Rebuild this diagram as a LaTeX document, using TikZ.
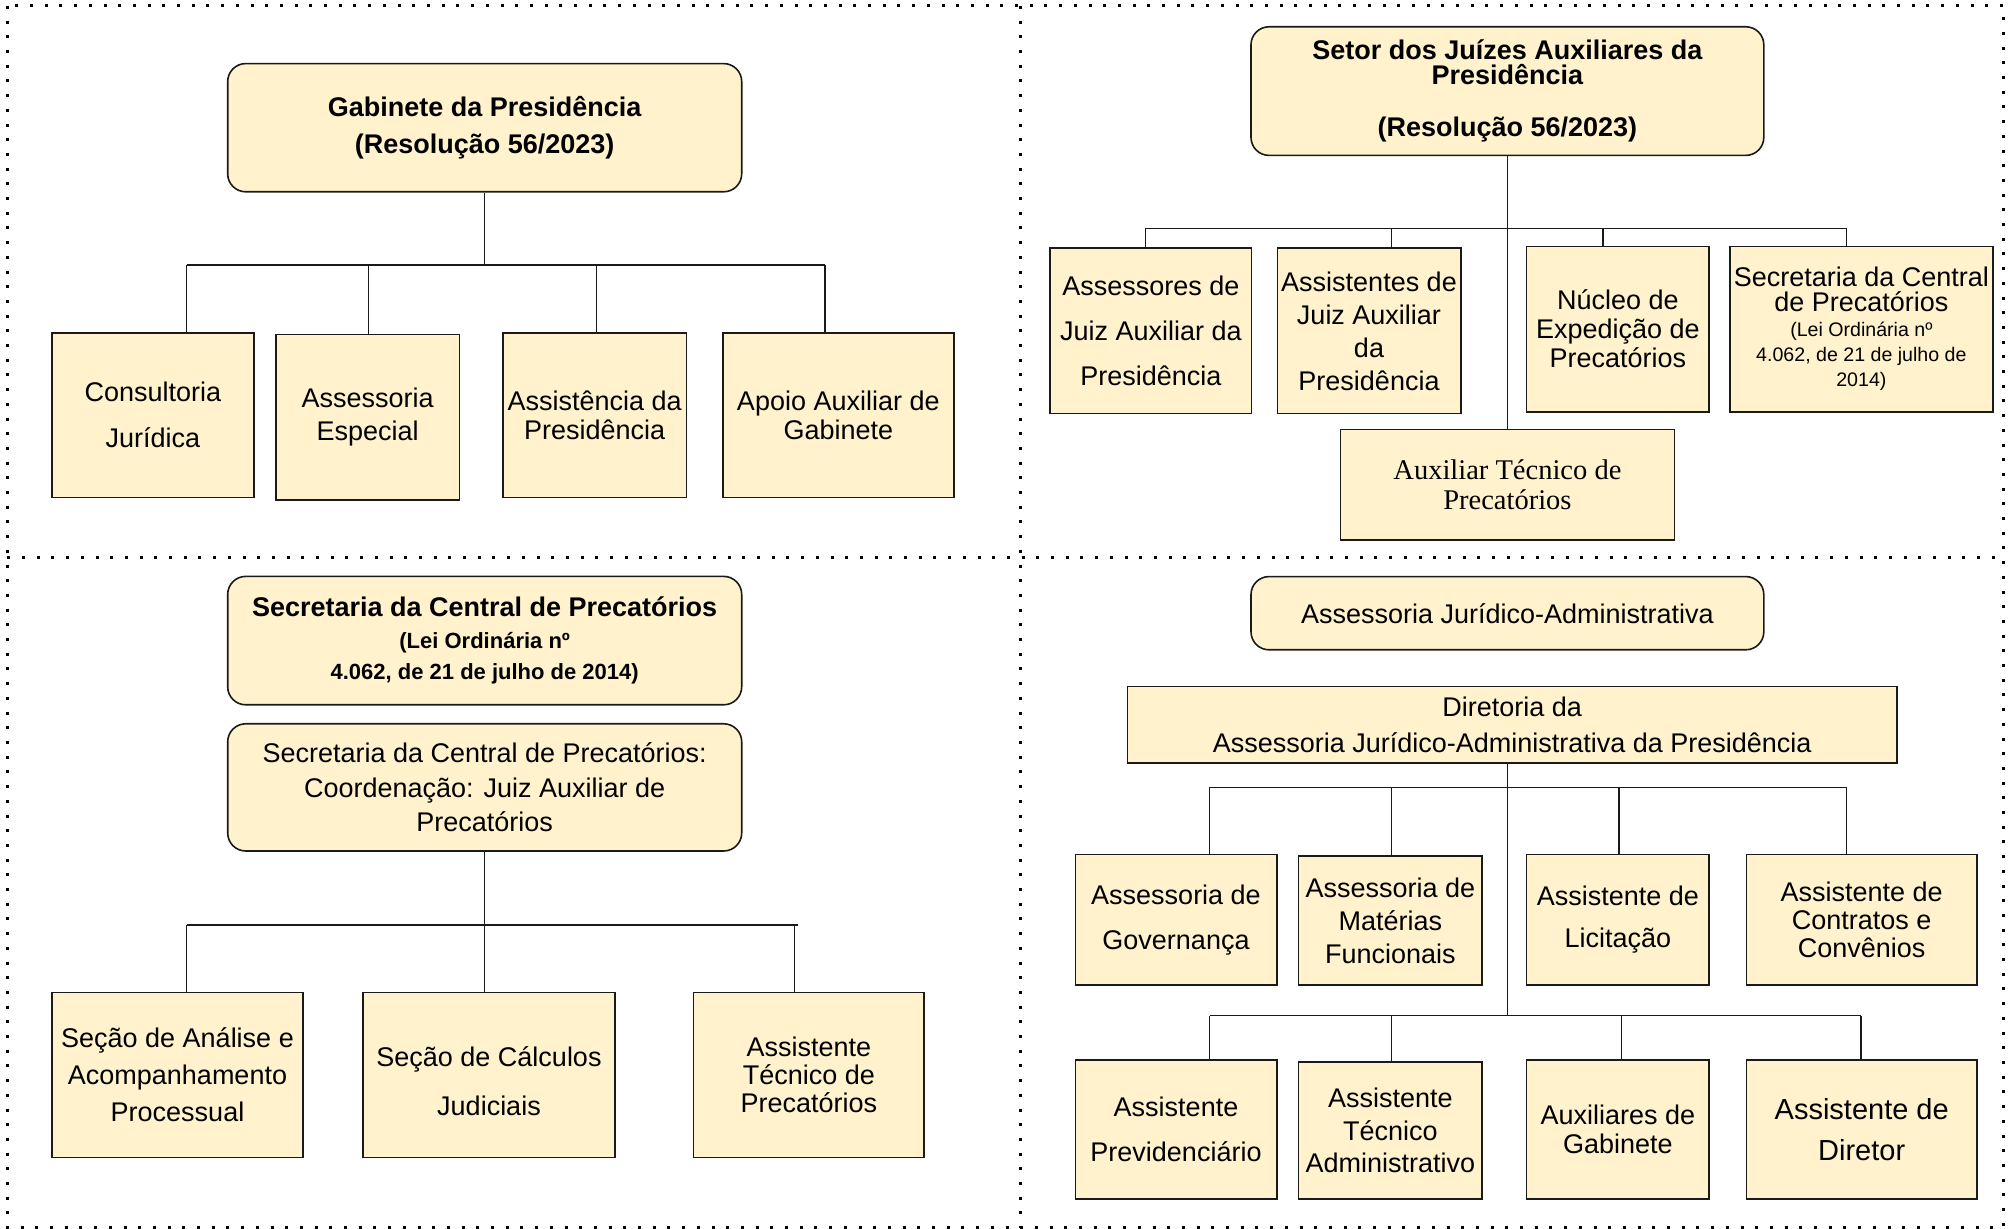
\documentclass[tikz,border=0pt]{standalone}
\usepackage{fontspec}
\setmainfont{Liberation Sans}
\newfontfamily\serifnote{Liberation Serif}
\definecolor{boxfill}{HTML}{FFF2CC}
\definecolor{boxline}{HTML}{1A1A1A}

\tikzset{every picture/.style={line width=0.75pt}}
\tikzset{
  orgbox/.style={draw=boxline, fill=boxfill, line width=0.8pt, inner sep=0pt, align=center},
  headbox/.style={orgbox, rounded corners=9pt},
  txt/.style={font={\fontsize{13.5}{#1}\selectfont\lineskiplimit=-30pt}},
  btxt/.style={font={\bfseries\fontsize{13.5}{#1}\selectfont\lineskiplimit=-30pt}},
  link/.style={draw=boxline, line width=0.65pt},
  frame/.style={line width=1.5pt, dash pattern=on 1.5pt off 5.85pt}
}
\newcommand{\lawnote}{\fontsize{9.8}{12}\selectfont}
\newcommand{\lawbold}{\bfseries\fontsize{11}{13}\selectfont}

\begin{document}
\begin{tikzpicture}[x=0.5pt,y=0.5pt,yscale=-1,xscale=1]
\path[use as bounding box] (0,0) rectangle (2009,1229);

%Shape: Rectangle (frame)
\draw[frame] (7.3,6) rectangle (2003.3,1227.5);
%Straight Lines
\draw[frame] (1020.3,6) -- (1020.3,1227.5);
%Straight Lines
\draw[frame] (7.3,557.3) -- (2003.3,557.3);

% ---------------- Gabinete da Presidencia ----------------
%Shape: Rounded Rectangle
\node[headbox, btxt=18.5pt, minimum width=257pt, minimum height=64.1pt] (gab) at (484.7,127.7) {Gabinete da Presidência\\(Resolução 56/2023)};
%Shape: Rectangle
\node[orgbox, txt=23pt, minimum width=100.9pt, minimum height=82.3pt] (consult) at (152.9,415.2) {Consultoria\\Jurídica};
%Shape: Rectangle
\node[orgbox, txt=16.5pt, minimum width=91.7pt, minimum height=82.7pt] (especial) at (367.6,417.3) {Assessoria\\Especial};
%Shape: Rectangle
\node[orgbox, txt=14.75pt, minimum width=91.7pt, minimum height=82.3pt] (assist) at (594.7,415.2) {Assistência da\\Presidência};
%Shape: Rectangle
\node[orgbox, txt=14.75pt, minimum width=115.5pt, minimum height=82.3pt] (apoio) at (838.3,415.2) {Apoio Auxiliar de\\Gabinete};

\coordinate (g1) at (186.7,265);
\coordinate (g2) at (368.2,265);
\coordinate (g3) at (596.6,265);
\coordinate (g4) at (825,265);
%Straight Lines
\draw[link] (gab.south) -- (gab.south |- g1);
\draw[link] (g1) -- (g4);
\draw[link] (g1) -- (g1 |- consult.north);
\draw[link] (g2) -- (g2 |- especial.north);
\draw[link] (g3) -- (g3 |- assist.north);
\draw[link] (g4) -- (g4 |- apoio.north);

% ---------------- Setor dos Juizes Auxiliares ----------------
%Shape: Rounded Rectangle
\node[headbox, btxt=12.2pt, minimum width=256.4pt, minimum height=64.3pt] (setor) at (1507.4,91.1) {Setor dos Juízes Auxiliares da\\Presidência\\[14pt](Resolução 56/2023)};
%Shape: Rectangle
\node[orgbox, txt=22.5pt, minimum width=100.7pt, minimum height=82.7pt] (assessores) at (1150.9,330.9) {Assessores de\\Juiz Auxiliar da\\Presidência};
%Shape: Rectangle
\node[orgbox, txt=16.5pt, minimum width=91.7pt, minimum height=82.7pt] (assistentes) at (1369,330.9) {Assistentes de\\Juiz Auxiliar\\da\\Presidência};
%Shape: Rectangle
\node[orgbox, txt=14.5pt, minimum width=91.4pt, minimum height=82.7pt] (nucleo) at (1617.8,329.1) {Núcleo de\\Expedição de\\Precatórios};
%Shape: Rectangle
\node[orgbox, txt=12.5pt, minimum width=131.6pt, minimum height=82.7pt] (secprec) at (1861.4,329.1) {Secretaria da Central\\de Precatórios\\{\lawnote (Lei Ordinária nº}\\{\lawnote 4.062, de 21 de julho de}\\{\lawnote 2014)}};
%Shape: Rectangle
\node[orgbox, font={\serifnote\fontsize{14.25}{14.75}\selectfont}, minimum width=167pt, minimum height=55.2pt] (auxtec) at (1507.4,484.8) {Auxiliar Técnico de\\Precatórios};

\coordinate (p1) at (1145.4,228.6);
\coordinate (p2) at (1391.2,228.6);
\coordinate (p3) at (1603,228.6);
\coordinate (p4) at (1846.8,228.6);
%Straight Lines
\draw[link] (setor.south) -- (auxtec.north);
\draw[link] (p1) -- (p4);
\draw[link] (p1) -- (p1 |- assessores.north);
\draw[link] (p2) -- (p2 |- assistentes.north);
\draw[link] (p3) -- (p3 |- nucleo.north);
\draw[link] (p4) -- (p4 |- secprec.north);

% ---------------- Secretaria da Central de Precatorios ----------------
%Shape: Rounded Rectangle
\node[headbox, btxt=15.7pt, minimum width=257pt, minimum height=64.2pt] (central) at (484.7,640.6) {Secretaria da Central de Precatórios\\{\lawbold (Lei Ordinária nº}\\{\lawbold 4.062, de 21 de julho de 2014)}};
%Shape: Rounded Rectangle
\node[headbox, txt=17.3pt, minimum width=257pt, minimum height=63.6pt] (coord) at (484.7,787.4) {Secretaria da Central de Precatórios:\\Coordenação: Juiz Auxiliar de\\Precatórios};
%Shape: Rectangle
\node[orgbox, txt=18.5pt, minimum width=125.5pt, minimum height=82.4pt] (analise) at (177.5,1074.9) {Seção de Análise e\\Acompanhamento\\Processual};
%Shape: Rectangle
\node[orgbox, txt=24.4pt, minimum width=126pt, minimum height=82.4pt] (calculos) at (489,1074.9) {\\[-8pt]Seção de Cálculos\\Judiciais};
%Shape: Rectangle
\node[orgbox, txt=14.1pt, minimum width=115.2pt, minimum height=82.4pt] (tecprec) at (808.8,1074.9) {Assistente\\Técnico de\\Precatórios};

\coordinate (c1) at (186.7,925);
\coordinate (c2) at (484.7,925);
\coordinate (c3) at (794.4,925);
\coordinate (c4) at (798,925);
%Straight Lines
\draw[link] (coord.south) -- (c2);
\draw[link] (c1) -- (c4);
\draw[link] (c1) -- (c1 |- analise.north);
\draw[link] (c2) -- (c2 |- calculos.north);
\draw[link] (c3) -- (c3 |- tecprec.north);

% ---------------- Assessoria Juridico-Administrativa ----------------
%Shape: Rounded Rectangle
\node[headbox, txt=16pt, minimum width=256.4pt, minimum height=36.6pt] (aja) at (1507.4,613.2) {Assessoria Jurídico-Administrativa};
%Shape: Rectangle
\node[orgbox, txt=18pt, minimum width=384.8pt, minimum height=38.4pt] (diretoria) at (1512.2,724.8) {Diretoria da\\Assessoria Jurídico-Administrativa da Presidência};
%Shape: Rectangle
\node[orgbox, txt=22.5pt, minimum width=100.7pt, minimum height=65.2pt] (governanca) at (1176,919.8) {Assessoria de\\Governança};
%Shape: Rectangle
\node[orgbox, txt=16.4pt, minimum width=91.7pt, minimum height=64.4pt] (materias) at (1390.3,920.6) {Assessoria de\\Matérias\\Funcionais};
%Shape: Rectangle
\node[orgbox, txt=21.2pt, minimum width=91.4pt, minimum height=65.2pt] (licitacao) at (1617.8,919.8) {Assistente de\\Licitação};
%Shape: Rectangle
\node[orgbox, txt=14.1pt, minimum width=115.2pt, minimum height=65.2pt] (contratos) at (1861.7,919.8) {Assistente de\\Contratos e\\Convênios};
%Shape: Rectangle
\node[orgbox, txt=22.5pt, minimum width=100.7pt, minimum height=69.6pt] (previd) at (1176,1129.4) {Assistente\\Previdenciário};
%Shape: Rectangle
\node[orgbox, txt=16.4pt, minimum width=91.7pt, minimum height=68.5pt] (tecadm) at (1390.3,1130.5) {Assistente\\Técnico\\Administrativo};
%Shape: Rectangle
\node[orgbox, txt=14.75pt, minimum width=91.4pt, minimum height=69.6pt] (auxgab) at (1617.8,1129.4) {Auxiliares de\\Gabinete};
%Shape: Rectangle
\node[orgbox, font={\fontsize{14.5}{20.5}\selectfont}, minimum width=115.2pt, minimum height=69.6pt] (diretor) at (1861.7,1129.4) {Assistente de\\Diretor};

\coordinate (d1) at (1209.8,787.4);
\coordinate (d2) at (1391.2,787.4);
\coordinate (d3) at (1619,787.4);
\coordinate (d4) at (1846.8,787.4);
\coordinate (e1) at (1209.8,1015.8);
\coordinate (e2) at (1391.2,1015.8);
\coordinate (e3) at (1621.6,1015.8);
\coordinate (e4) at (1861,1015.8);
%Straight Lines
\draw[link] (diretoria.south -| aja.south) -- (aja.south |- e1);
\draw[link] (d1) -- (d4);
\draw[link] (d1) -- (d1 |- governanca.north);
\draw[link] (d2) -- (d2 |- materias.north);
\draw[link] (d3) -- (d3 |- licitacao.north);
\draw[link] (d4) -- (d4 |- contratos.north);
\draw[link] (e1) -- (e4);
\draw[link] (e1) -- (e1 |- previd.north);
\draw[link] (e2) -- (e2 |- tecadm.north);
\draw[link] (e3) -- (e3 |- auxgab.north);
\draw[link] (e4) -- (e4 |- diretor.north);

\end{tikzpicture}
\end{document}
